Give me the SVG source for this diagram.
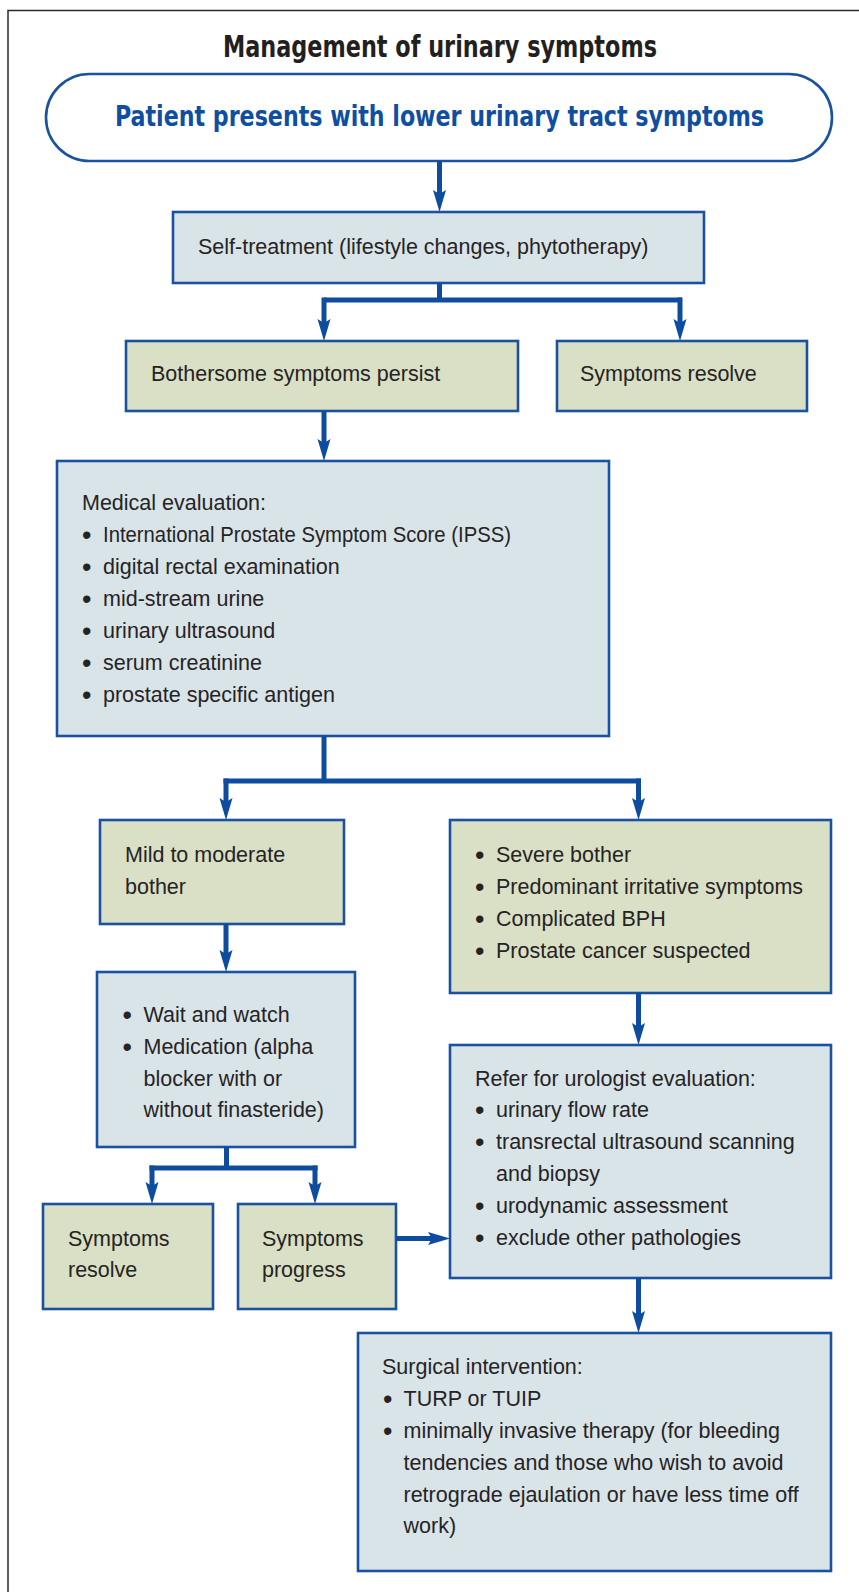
<svg xmlns="http://www.w3.org/2000/svg" width="859" height="1592" viewBox="0 0 859 1592">
<style>
.frame{fill:none;stroke:#2a2a2a;stroke-width:1.5}
.bx{stroke:#1a52a0;stroke-width:2.6}
.blue{fill:#d9e4e8}
.green{fill:#d9e0c5}
.pill{fill:#ffffff;stroke:#1a52a0;stroke-width:2.6}
.t{font-family:"Liberation Sans",Arial,Helvetica,sans-serif;font-size:21.5px;fill:#262324}
.b{font-family:"Liberation Sans",Arial,Helvetica,sans-serif;font-size:27px;fill:#262324}
.ttl{font-family:"DejaVu Sans Condensed","DejaVu Sans",sans-serif;font-stretch:condensed;font-weight:bold;font-size:30px;fill:#231f20}
.pt{font-family:"DejaVu Sans Condensed","DejaVu Sans",sans-serif;font-stretch:condensed;font-weight:bold;font-size:28px;fill:#0f4ea0}
.cn{fill:none;stroke:#0e4c9f;stroke-width:5;stroke-linejoin:miter;stroke-linecap:butt}
</style>
<defs>
<marker id="ah" viewBox="0 -7 22 14" refX="10" refY="0" markerWidth="22" markerHeight="14" markerUnits="userSpaceOnUse" orient="auto">
<path d="M0,-6.5 L22,0 L0,6.5 L4,0 Z" fill="#0e4c9f"/>
</marker>
</defs>
<path class="frame" d="M8,1592 L8,10.5 L859,10.5"/>
<text class="ttl" x="440" y="57" text-anchor="middle" textLength="434" lengthAdjust="spacingAndGlyphs">Management of urinary symptoms</text>

<g id="start">
<rect class="pill" x="46" y="74" width="786" height="87" rx="43.5" ry="43.5"/>
<text class="pt" x="115" y="126" textLength="649" lengthAdjust="spacingAndGlyphs">Patient presents with lower urinary tract symptoms</text>
</g>

<g id="selftreat">
<rect class="bx blue" x="173" y="212" width="531" height="71"/>
<text class="t" x="198" y="254">Self-treatment (lifestyle changes, phytotherapy)</text>
</g>

<g id="persist">
<rect class="bx green" x="126" y="341" width="392" height="70"/>
<text class="t" x="151" y="381">Bothersome symptoms persist</text>
</g>

<g id="resolve1">
<rect class="bx green" x="557" y="341" width="250" height="70"/>
<text class="t" x="580" y="381">Symptoms resolve</text>
</g>

<g id="medeval">
<rect class="bx blue" x="57" y="461" width="552" height="275"/>
<text class="t" x="82" y="510">Medical evaluation:</text>
<text class="b" x="82" y="544">•</text><text class="t" x="103" y="542" textLength="408" lengthAdjust="spacingAndGlyphs">International Prostate Symptom Score (IPSS)</text>
<text class="b" x="82" y="576">•</text><text class="t" x="103" y="574">digital rectal examination</text>
<text class="b" x="82" y="608">•</text><text class="t" x="103" y="606">mid-stream urine</text>
<text class="b" x="82" y="640">•</text><text class="t" x="103" y="638">urinary ultrasound</text>
<text class="b" x="82" y="672">•</text><text class="t" x="103" y="670">serum creatinine</text>
<text class="b" x="82" y="704">•</text><text class="t" x="103" y="702">prostate specific antigen</text>
</g>

<g id="mild">
<rect class="bx green" x="100" y="820" width="244" height="104"/>
<text class="t" x="125" y="862">Mild to moderate</text>
<text class="t" x="125" y="894">bother</text>
</g>

<g id="severe">
<rect class="bx green" x="450" y="820" width="381" height="173"/>
<text class="b" x="475" y="864">•</text><text class="t" x="496" y="862">Severe bother</text>
<text class="b" x="475" y="896">•</text><text class="t" x="496" y="894">Predominant irritative symptoms</text>
<text class="b" x="475" y="928">•</text><text class="t" x="496" y="926">Complicated BPH</text>
<text class="b" x="475" y="960">•</text><text class="t" x="496" y="958">Prostate cancer suspected</text>
</g>

<g id="wait">
<rect class="bx blue" x="97" y="972" width="258" height="175"/>
<text class="b" x="122.5" y="1024">•</text><text class="t" x="143.5" y="1022">Wait and watch</text>
<text class="b" x="122.5" y="1056">•</text><text class="t" x="143.5" y="1054">Medication (alpha</text>
<text class="t" x="143.5" y="1086">blocker with or</text>
<text class="t" x="143.5" y="1117">without finasteride)</text>
</g>

<g id="resolve2">
<rect class="bx green" x="43" y="1204" width="170" height="105"/>
<text class="t" x="68" y="1246">Symptoms</text>
<text class="t" x="68" y="1277">resolve</text>
</g>

<g id="progress">
<rect class="bx green" x="238" y="1204" width="158" height="105"/>
<text class="t" x="262" y="1246">Symptoms</text>
<text class="t" x="262" y="1277">progress</text>
</g>

<g id="refer">
<rect class="bx blue" x="450" y="1045" width="381" height="233"/>
<text class="t" x="475" y="1086">Refer for urologist evaluation:</text>
<text class="b" x="475" y="1119">•</text><text class="t" x="496" y="1117">urinary flow rate</text>
<text class="b" x="475" y="1151">•</text><text class="t" x="496" y="1149">transrectal ultrasound scanning</text>
<text class="t" x="496" y="1181">and biopsy</text>
<text class="b" x="475" y="1215">•</text><text class="t" x="496" y="1213">urodynamic assessment</text>
<text class="b" x="475" y="1247">•</text><text class="t" x="496" y="1245">exclude other pathologies</text>
</g>

<g id="surgical">
<rect class="bx blue" x="358" y="1333" width="473" height="238"/>
<text class="t" x="382" y="1374">Surgical intervention:</text>
<text class="b" x="383" y="1408">•</text><text class="t" x="403.5" y="1406">TURP or TUIP</text>
<text class="b" x="383" y="1440">•</text><text class="t" x="403.5" y="1438">minimally invasive therapy (for bleeding</text>
<text class="t" x="403.5" y="1470">tendencies and those who wish to avoid</text>
<text class="t" x="403.5" y="1502">retrograde ejaulation or have less time off</text>
<text class="t" x="403.5" y="1533">work)</text>
</g>

<g id="connectors">
<path class="cn" d="M439.5,161 L439.5,200" marker-end="url(#ah)"/>
<path class="cn" d="M439.5,283 L439.5,300 M324,300 L682,300"/>
<path class="cn" d="M324,297.5 L324,329" marker-end="url(#ah)"/>
<path class="cn" d="M680,297.5 L680,329" marker-end="url(#ah)"/>
<path class="cn" d="M324,411 L324,449" marker-end="url(#ah)"/>
<path class="cn" d="M324,736 L324,781 M223.5,781 L641,781"/>
<path class="cn" d="M226,778.5 L226,808" marker-end="url(#ah)"/>
<path class="cn" d="M638.5,778.5 L638.5,808" marker-end="url(#ah)"/>
<path class="cn" d="M226,924 L226,960" marker-end="url(#ah)"/>
<path class="cn" d="M226.5,1147 L226.5,1168 M149.5,1168 L317.5,1168"/>
<path class="cn" d="M152,1165.5 L152,1192" marker-end="url(#ah)"/>
<path class="cn" d="M315,1165.5 L315,1192" marker-end="url(#ah)"/>
<path class="cn" d="M396,1238.5 L438,1238.5" marker-end="url(#ah)"/>
<path class="cn" d="M638.5,993 L638.5,1033" marker-end="url(#ah)"/>
<path class="cn" d="M638.5,1278 L638.5,1321" marker-end="url(#ah)"/>
</g>
</svg>
